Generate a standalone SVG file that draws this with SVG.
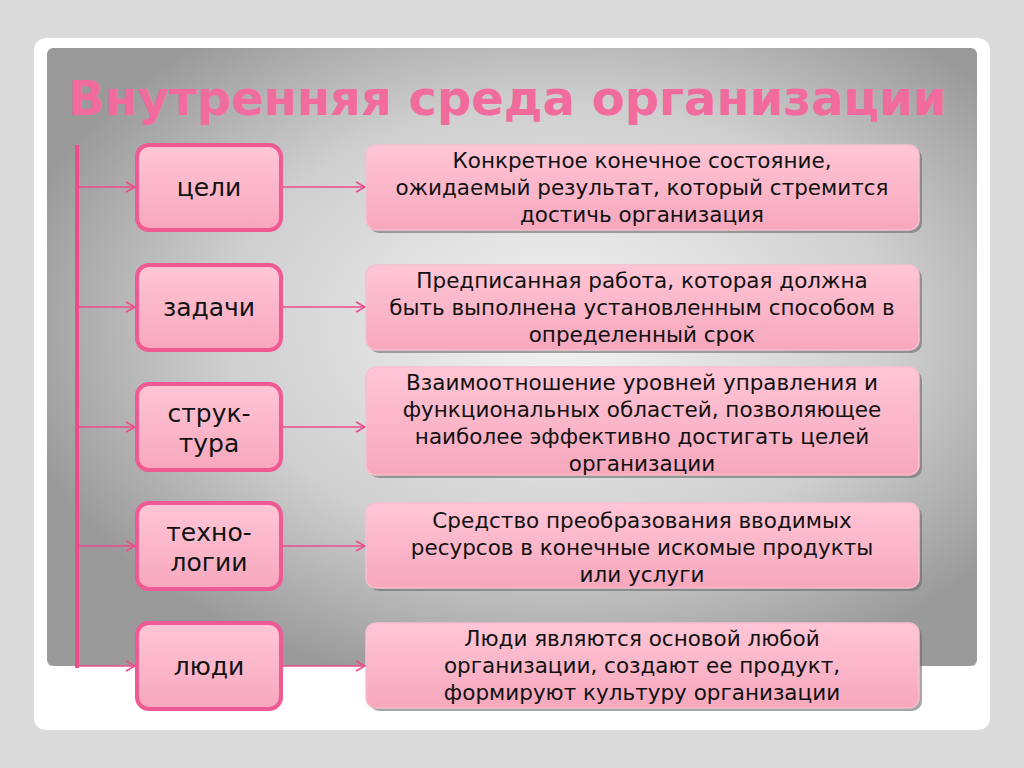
<svg xmlns="http://www.w3.org/2000/svg" width="1024" height="768" viewBox="0 0 1024 768">
<defs>
<radialGradient id="bg" cx="0.55" cy="0.45" r="0.6"><stop offset="0" stop-color="#f4f4f4"/><stop offset="0.6" stop-color="#cfcfcf"/><stop offset="1" stop-color="#9a9a9a"/></radialGradient>
<linearGradient id="pk" x1="0" y1="0" x2="0" y2="1"><stop offset="0" stop-color="#ffc6d6"/><stop offset="1" stop-color="#f7a7bd"/></linearGradient>
<marker id="ar" markerWidth="12" markerHeight="12" refX="10" refY="6" orient="auto" markerUnits="userSpaceOnUse"><path d="M1,1 L10,6 L1,11" fill="none" stroke="#ee4b8a" stroke-width="1.5"/></marker>
</defs>
<style>
.l{fill:url(#pk);stroke:#ee5a91;stroke-width:4}
.r{fill:url(#pk);stroke:#f5c0cf;stroke-width:1.5}
.sh{fill:#6a6a6a;opacity:0.6}
text{font-family:"DejaVu Sans",sans-serif;fill:#111;text-anchor:middle}
.t1{font-size:25px}.t2{font-size:21.5px}
.c{stroke:#ee4b8a;stroke-width:1.5;fill:none;marker-end:url(#ar)}
</style>
<rect width="1024" height="768" fill="#dadada"/>
<rect x="34" y="38" width="956" height="692" rx="12" fill="#fff"/>
<rect x="47" y="48" width="930" height="618" rx="6" fill="url(#bg)"/>
<text x="68" y="115" style="font-size:48px;font-weight:bold;fill:#f16b9c;text-anchor:start">Внутренняя среда организации</text>
<g id="connectors">
<line x1="77" y1="145" x2="77" y2="668" stroke="#ee4b8a" stroke-width="4"/>
<line class="c" x1="77" y1="187" x2="135" y2="187"/><line class="c" x1="283" y1="187" x2="365" y2="187"/>
<line class="c" x1="77" y1="307" x2="135" y2="307"/><line class="c" x1="283" y1="307" x2="365" y2="307"/>
<line class="c" x1="77" y1="427" x2="135" y2="427"/><line class="c" x1="283" y1="427" x2="365" y2="427"/>
<line class="c" x1="77" y1="546" x2="135" y2="546"/><line class="c" x1="283" y1="546" x2="365" y2="546"/>
<line class="c" x1="77" y1="666" x2="135" y2="666"/><line class="c" x1="283" y1="666" x2="365" y2="666"/>
</g>
<g id="n1"><rect class="l" x="137" y="145" width="144" height="85" rx="12"/><text class="t1" x="209" y="196">цели</text></g>
<g id="n2"><rect class="l" x="137" y="265" width="144" height="85" rx="12"/><text class="t1" x="209" y="316">задачи</text></g>
<g id="n3"><rect class="l" x="137" y="384" width="144" height="86" rx="12"/><text class="t1" x="209" y="422">струк-</text><text class="t1" x="209" y="452">тура</text></g>
<g id="n4"><rect class="l" x="137" y="503" width="144" height="86" rx="12"/><text class="t1" x="209" y="541">техно-</text><text class="t1" x="209" y="571">логии</text></g>
<g id="n5"><rect class="l" x="137" y="623" width="144" height="86" rx="12"/><text class="t1" x="209" y="675">люди</text></g>
<g id="d1"><rect class="sh" x="369" y="148" width="553" height="85" rx="10"/><rect class="r" x="366" y="145" width="553" height="85" rx="10"/><text class="t2" x="642" y="168">Конкретное конечное состояние,</text><text class="t2" x="642" y="195">ожидаемый результат, который стремится</text><text class="t2" x="642" y="222">достичь организация</text></g>
<g id="d2"><rect class="sh" x="369" y="268" width="553" height="85" rx="10"/><rect class="r" x="366" y="265" width="553" height="85" rx="10"/><text class="t2" x="642" y="288">Предписанная работа, которая должна</text><text class="t2" x="642" y="315">быть выполнена установленным способом в</text><text class="t2" x="642" y="342">определенный срок</text></g>
<g id="d3"><rect class="sh" x="369" y="370" width="553" height="108" rx="10"/><rect class="r" x="366" y="367" width="553" height="108" rx="10"/><text class="t2" x="642" y="390">Взаимоотношение уровней управления и</text><text class="t2" x="642" y="417">функциональных областей, позволяющее</text><text class="t2" x="642" y="444">наиболее эффективно достигать целей</text><text class="t2" x="642" y="471">организации</text></g>
<g id="d4"><rect class="sh" x="369" y="506" width="553" height="85" rx="10"/><rect class="r" x="366" y="503" width="553" height="85" rx="10"/><text class="t2" x="642" y="528">Средство преобразования вводимых</text><text class="t2" x="642" y="555">ресурсов в конечные искомые продукты</text><text class="t2" x="642" y="582">или услуги</text></g>
<g id="d5"><rect class="sh" x="369" y="626" width="553" height="85" rx="10"/><rect class="r" x="366" y="623" width="553" height="85" rx="10"/><text class="t2" x="642" y="646">Люди являются основой любой</text><text class="t2" x="642" y="673">организации, создают ее продукт,</text><text class="t2" x="642" y="700">формируют культуру организации</text></g>
</svg>
